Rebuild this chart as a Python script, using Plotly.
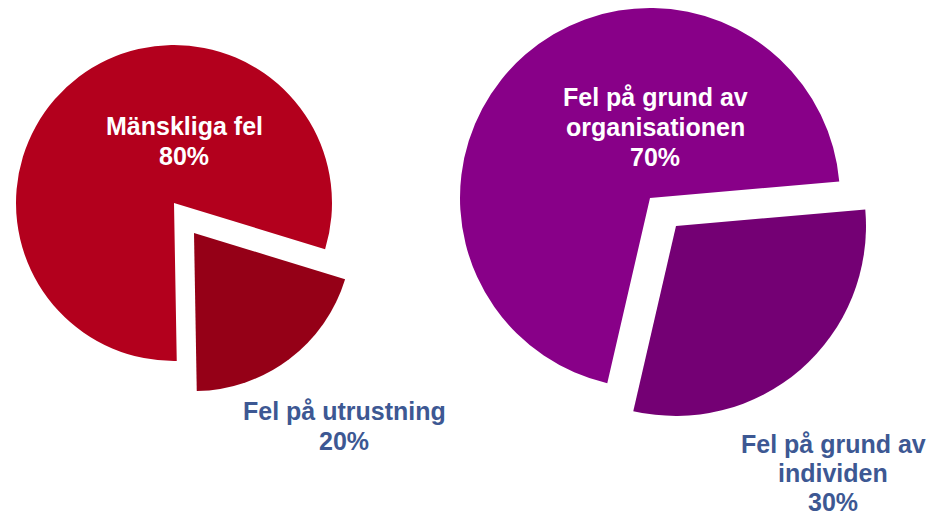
import plotly.graph_objects as go

W, H = 933, 519

# Data
left_labels = ["Mänskliga fel", "Fel på utrustning"]
left_values = [80, 20]
right_labels = ["Fel på grund av<br>organisationen", "Fel på grund av<br>individen"]
right_values = [70, 30]

left_colors = ["#b3001d", "#950017"]
right_colors = ["#880088", "#740074"]
label_blue = "#3d5893"
FONT = "Liberation Sans, Arial, sans-serif"


def dom(cx, cy, r):
    return dict(x=[(cx - r) / W, (cx + r) / W], y=[1 - (cy + r) / H, 1 - (cy - r) / H])


def pie_pair(labels, values, colors, cx, cy, r, dx, dy, rotation):
    traces = []
    # main (large) slice
    traces.append(go.Pie(
        labels=labels, values=values, sort=False, direction="clockwise",
        rotation=rotation, textinfo="none", hoverinfo="label+percent",
        marker=dict(colors=[colors[0], "rgba(0,0,0,0)"], line=dict(width=0)),
        domain=dom(cx, cy, r), showlegend=False))
    # exploded (small) slice
    traces.append(go.Pie(
        labels=labels, values=values, sort=False, direction="clockwise",
        rotation=rotation, textinfo="none", hoverinfo="label+percent",
        marker=dict(colors=["rgba(0,0,0,0)", colors[1]], line=dict(width=0)),
        domain=dom(cx + dx, cy + dy, r), showlegend=False))
    return traces


fig = go.Figure()
for t in pie_pair(left_labels, left_values, left_colors, 174, 203, 158, 20, 30, 179):
    fig.add_trace(t)
for t in pie_pair(right_labels, right_values, right_colors, 650, 198, 190, 26, 28, 193):
    fig.add_trace(t)


def pct(v, vals):
    return f"{round(100 * v / sum(vals))}%"


# (label, value, values, x of centre, y of first line, line spacing, colour)
label_specs = [
    (left_labels[0], left_values[0], left_values, 184, 126, 30, "white"),
    (left_labels[1], left_values[1], left_values, 344, 411, 30, label_blue),
    (right_labels[0], right_values[0], right_values, 655, 97, 30, "white"),
    (right_labels[1], right_values[1], right_values, 833, 444, 29, label_blue),
]
for lab, v, vals, x, y0, step, col in label_specs:
    lines = lab.split("<br>") + [pct(v, vals)]
    for i, line in enumerate(lines):
        fig.add_annotation(
            text=line, x=x / W, y=1 - (y0 + i * step) / H, xref="paper", yref="paper",
            showarrow=False, xanchor="center", yanchor="middle", align="center",
            borderpad=0,
            font=dict(family=FONT, size=25, color=col, weight="bold"))

fig.update_layout(
    width=W, height=H, margin=dict(l=0, r=0, t=0, b=0),
    paper_bgcolor="white", plot_bgcolor="white")

fig.write_html(
    "out.html",
    config={"displayModeBar": False},
    post_script="document.body.style.margin='0';document.body.style.overflow='hidden';",
)
